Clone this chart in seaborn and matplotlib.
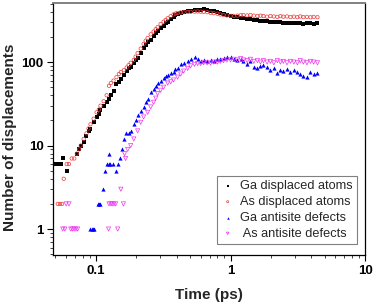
import numpy as np
import pandas as pd
import matplotlib
matplotlib.use('Agg')
import matplotlib.pyplot as plt
import seaborn as sns
from matplotlib.ticker import LogLocator, NullFormatter, FuncFormatter

# Ga displaced atoms
ga_disp_t = [0.049, 0.051, 0.053, 0.055, 0.057, 0.0606,
             0.072, 0.075, 0.077, 0.081, 0.085, 0.088, 0.091, 0.096, 0.101, 0.105,
             0.108, 0.114, 0.120, 0.125, 0.129, 0.135, 0.142, 0.148, 0.153, 0.161,
             0.169, 0.175, 0.181, 0.191, 0.197, 0.204, 0.215, 0.226, 0.234, 0.242,
             0.255, 0.268, 0.278, 0.287, 0.302, 0.318, 0.330, 0.341, 0.359, 0.377,
             0.39, 0.404, 0.426, 0.448, 0.48, 0.505, 0.54, 0.569, 0.60, 0.631,
             0.67, 0.711, 0.75, 0.80, 0.84, 0.887, 0.94, 1.0, 1.06, 1.127,
             1.19, 1.249, 1.33, 1.407, 1.49, 1.586, 1.67, 1.758, 1.87, 1.98,
             2.1, 2.23, 2.35, 2.47, 2.63, 2.79, 2.96, 3.14, 3.3, 3.48,
             3.7, 3.93, 4.15, 4.43]
ga_disp_n = [6, 6, 6, 6, 7, 5,
             8, 9, 10, 11, 13, 15, 16, 19, 22, 24,
             27, 30, 33, 36, 40, 45, 54, 58, 62, 70,
             78, 84, 88, 98, 105, 112, 130, 148, 160, 172,
             185, 205, 220, 236, 255, 272, 290, 305, 330, 350,
             365, 378, 388, 395, 405, 410, 415, 420, 425, 428,
             420, 412, 405, 398, 388, 378, 368, 360, 348, 345,
             340, 337, 330, 325, 320, 318, 314, 310, 307, 304,
             302, 300, 298, 296, 294, 293, 292, 293, 290, 289,
             291, 290, 289, 290]

# As displaced atoms
as_disp_t = [0.052, 0.054, 0.056, 0.0576, 0.0606, 0.063, 0.066, 0.069,
             0.072, 0.075, 0.077, 0.081, 0.085, 0.088, 0.091, 0.096, 0.101, 0.105,
             0.108, 0.114, 0.120, 0.125, 0.129, 0.135, 0.142, 0.148, 0.153, 0.161,
             0.169, 0.175, 0.181, 0.191, 0.197, 0.204, 0.215, 0.226, 0.234, 0.242,
             0.255, 0.268, 0.278, 0.287, 0.302, 0.318, 0.330, 0.341, 0.359, 0.377,
             0.39, 0.404, 0.426, 0.448, 0.48, 0.505, 0.54, 0.569, 0.60, 0.631,
             0.67, 0.711, 0.75, 0.80, 0.84, 0.887, 0.94, 1.0, 1.06, 1.127,
             1.19, 1.249, 1.33, 1.407, 1.49, 1.586, 1.67, 1.758, 1.87, 1.98,
             2.1, 2.23, 2.35, 2.47, 2.63, 2.79, 2.96, 3.14, 3.3, 3.48,
             3.7, 3.93, 4.15, 4.43]
as_disp_n = [2, 2, 2, 4, 6, 6, 7, 7,
             8, 9, 10, 12, 14, 16, 18, 21, 25, 27,
             30, 34, 40, 52, 56, 60, 66, 72, 76, 80,
             86, 92, 98, 106, 116, 128, 145, 165, 180, 194,
             215, 232, 248, 262, 285, 305, 320, 335, 355, 372,
             382, 388, 393, 396, 398, 400, 402, 404, 402, 400,
             396, 390, 386, 380, 372, 366, 362, 358, 356, 360,
             364, 366, 362, 366, 360, 356, 360, 356, 350, 356,
             352, 348, 355, 350, 352, 346, 350, 345, 352, 346,
             348, 344, 348, 345]

# Ga antisite defects
ga_anti_t = [0.091, 0.093, 0.095, 0.097, 0.103, 0.105, 0.107, 0.112, 0.116, 0.120,
             0.124, 0.125, 0.128, 0.133, 0.140, 0.145, 0.150, 0.155, 0.161, 0.166,
             0.175, 0.181, 0.191, 0.197, 0.204, 0.215, 0.226, 0.234, 0.242,
             0.255, 0.268, 0.278, 0.287, 0.302, 0.318, 0.330, 0.341, 0.359, 0.377,
             0.39, 0.404, 0.426, 0.448, 0.48, 0.505, 0.54, 0.569, 0.60, 0.631,
             0.67, 0.711, 0.75, 0.80, 0.84, 0.887, 0.94, 1.0, 1.06, 1.127,
             1.19, 1.249, 1.33, 1.407, 1.49, 1.586, 1.67, 1.758, 1.87, 1.98,
             2.1, 2.23, 2.35, 2.47, 2.63, 2.79, 2.96, 3.14, 3.3, 3.48,
             3.7, 3.93, 4.15, 4.43]
ga_anti_n = [1, 1, 1, 1, 2, 2, 2, 3, 5, 6,
             6, 8, 6, 6, 5, 6, 7, 9, 12, 14,
             14, 15, 18, 20, 23, 26, 29, 33, 36,
             44, 47, 52, 56, 60, 64, 68, 70, 74, 77,
             82, 86, 94, 98, 104, 110, 116, 108, 104, 106,
             104, 106, 104, 110, 108, 112, 114, 116, 110, 106,
             108, 104, 96, 104, 88, 84, 90, 92, 88, 80,
             84, 74, 80, 78, 82, 76, 80, 76, 72, 68,
             66, 76, 72, 74]

# As antisite defects
as_anti_t = [0.0566, 0.0587, 0.060, 0.063, 0.0649, 0.0668, 0.0688, 0.0709, 0.073,
             0.124, 0.125, 0.129, 0.132, 0.136, 0.140, 0.145, 0.153, 0.160, 0.163, 0.166,
             0.172, 0.181, 0.191, 0.204, 0.215, 0.226, 0.242, 0.255, 0.268, 0.278,
             0.287, 0.302, 0.318, 0.341, 0.359, 0.377, 0.404, 0.426, 0.448, 0.48,
             0.505, 0.54, 0.569, 0.60, 0.631, 0.67, 0.711, 0.75, 0.80, 0.84,
             0.887, 0.94, 1.0, 1.06, 1.127, 1.19, 1.249, 1.33, 1.407, 1.49,
             1.586, 1.67, 1.758, 1.87, 1.98, 2.1, 2.23, 2.35, 2.47, 2.63,
             2.79, 2.96, 3.14, 3.3, 3.48, 3.7, 3.93, 4.15, 4.43]
as_anti_n = [1, 1, 2, 2, 1, 1, 1, 1, 1,
             1, 2, 2, 2, 2, 2, 1, 3, 2, 8, 7,
             9, 10, 12, 15, 19, 22, 25, 29, 33, 37,
             42, 46, 50, 56, 58, 61, 66, 72, 78, 84,
             90, 94, 96, 96, 98, 98, 97, 100, 100, 102,
             104, 106, 106, 108, 106, 110, 106, 104, 108, 102,
             104, 100, 104, 100, 102, 98, 104, 100, 102, 98,
             102, 100, 98, 104, 100, 98, 102, 100, 98]

labels = ['Ga displaced atoms', 'As displaced atoms',
          'Ga antisite defects', ' As antisite defects']

sns.set_theme(style='ticks')
plt.rcParams['font.family'] = ['Liberation Sans', 'DejaVu Sans']

fig = plt.figure(figsize=(3.74, 3.02), dpi=100)
ax = fig.add_axes([0.142, 0.156, 0.834, 0.834])

sns.scatterplot(x=ga_disp_t, y=ga_disp_n, marker='s', s=5, color='black',
                edgecolor='black', linewidth=0, label=labels[0], ax=ax, zorder=3)
sns.scatterplot(x=as_disp_t, y=as_disp_n, marker='o', s=6, facecolor='none',
                edgecolor='#e83a3a', linewidth=0.5, label=labels[1], ax=ax, zorder=4)
sns.scatterplot(x=ga_anti_t, y=ga_anti_n, marker='^', s=9, color='#0000ff',
                edgecolor='#0000ff', linewidth=0, label=labels[2], ax=ax, zorder=5)
sns.scatterplot(x=as_anti_t, y=as_anti_n, marker='v', s=9, facecolor='none',
                edgecolor='#ee33ee', linewidth=0.5, label=labels[3], ax=ax, zorder=6)

ax.set_xscale('log')
ax.set_yscale('log')
ax.set_xlim(0.048, 10)
ax.set_ylim(0.49, 510)

for a in (ax.xaxis, ax.yaxis):
    a.set_major_locator(LogLocator(base=10))
    a.set_minor_locator(LogLocator(base=10, subs=np.arange(2, 10)))
    a.set_minor_formatter(NullFormatter())
    a.set_major_formatter(FuncFormatter(lambda v, p: '%g' % v))

ax.tick_params(which='major', direction='out', length=4, width=0.8,
               labelsize=9.5, pad=3, colors='black')
ax.tick_params(which='minor', direction='out', length=2.2, width=0.6)
for lab in ax.get_xticklabels() + ax.get_yticklabels():
    lab.set_fontweight('bold')

for side in ['left', 'bottom', 'right']:
    ax.spines[side].set_color('black')
    ax.spines[side].set_linewidth(0.9)
ax.spines['top'].set_color('#808080')
ax.spines['top'].set_linewidth(1.4)

ax.set_xlabel('Time (ps)', fontsize=11, fontweight='bold', labelpad=8)
ax.set_ylabel('Number of displacements', fontsize=11, fontweight='bold')
ax.yaxis.set_label_coords(-0.117, 0.468)

leg = ax.legend(loc='lower right', bbox_to_anchor=(0.974, 0.045), borderaxespad=0,
                fontsize=9.2, frameon=True, fancybox=False, framealpha=1,
                edgecolor='#808080', handlelength=1.0, handletextpad=0.5,
                labelspacing=0.3, borderpad=0.3, markerscale=0.6)
leg.get_frame().set_linewidth(0.8)

fig.savefig('out.png', dpi=100)
